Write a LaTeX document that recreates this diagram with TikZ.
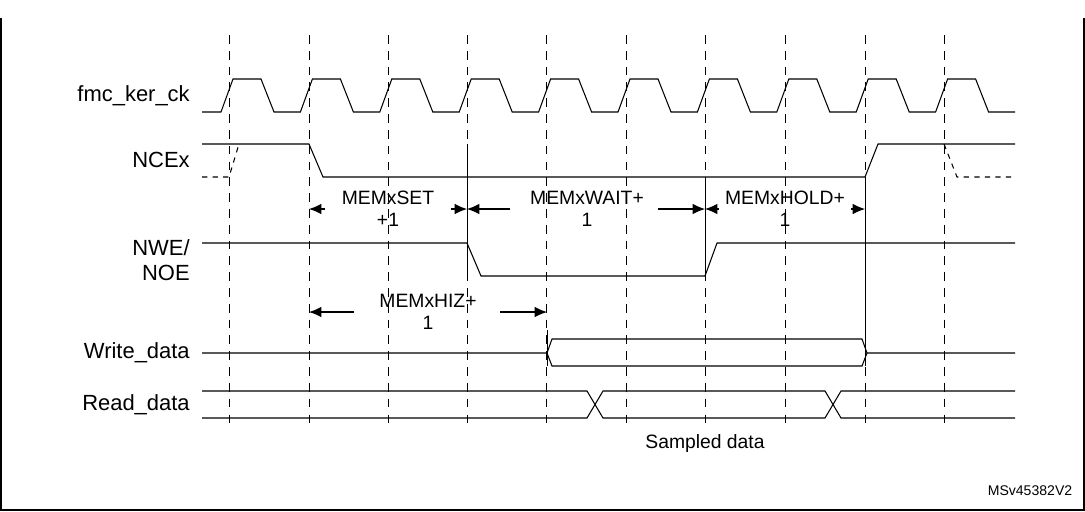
\documentclass[tikz,border=0pt]{standalone}
\usepackage{fontspec}
\setmainfont{Liberation Sans}
\usetikzlibrary{positioning}
\usetikzlibrary{calc}
\usetikzlibrary{arrows.meta}

\begin{document}
\begin{tikzpicture}[x=0.02cm,y=-0.02cm,line width=0.6pt,
  every node/.style={font=\fontsize{11}{12.5}\selectfont,inner sep=1pt},
  lbl/.style={anchor=east,align=right,font=\fontsize{12.5}{14}\selectfont},
  grid/.style={dashed,dash pattern=on 5pt off 4pt,line width=0.5pt},
  dim/.style={-{Latex[length=7pt,width=6pt]}}]
\useasboundingbox (0,0) rectangle (1085,511);
\draw[line width=0.8pt] (1,18) -- (1,510) -- (1084,510) -- (1084,18);
% dashed cycle lines
\foreach \x in {229,309,388,467,546,626,705,785,865,944}
  \draw[grid] (\x,35) -- (\x,428);
% signal names
\node[lbl] (clk) at (192,96) {fmc\_ker\_ck};
\node[lbl] (nce) at (192,160) {NCEx};
\node[lbl] (nwe) at (192,260) {NWE/\\NOE};
\node[lbl] (wd) at (192,353) {Write\_data};
\node[lbl] (rd) at (192,405) {Read\_data};
% clock
\draw (202,112) -- (221,112)
  \foreach \i in {0,...,9} { -- ({221+79.4*\i},112) -- ({233+79.4*\i},79) -- ({261+79.4*\i},79) -- ({274+79.4*\i},112) }
  -- (1015,112);
% NCEx
\draw (202,144) -- (309,144) -- (323,177) -- (865,177) -- (878,144) -- (1015,144);
\draw[dashed] (202,177) -- (229,177) -- (239,144);
\draw[dashed] (944,144) -- (957,177) -- (1015,177);
% NWE/NOE
\draw (202,243) -- (467,243) -- (481,276) -- (705,276) -- (717,243) -- (1015,243);
% Write_data
\draw (202,353) -- (547,353) -- (552,339) -- (862,339) -- (867,353) -- (1015,353);
\draw (547,353) -- (552,366) -- (862,366) -- (867,353);
% Read_data
\draw (202,391) -- (587,391) -- (603,418) -- (825,418) -- (841,391) -- (1015,391);
\draw (202,418) -- (587,418) -- (603,391) -- (825,391) -- (841,418) -- (1015,418);
% solid markers
\draw[line width=0.5pt] (467,144) -- (467,276);
\draw[line width=0.5pt] (705,177) -- (705,280);
\draw[line width=0.5pt] (865,177) -- (865,366);
\draw[line width=0.5pt] (547,330) -- (547,366);
% timing intervals
\coordinate (s0) at (309,209); \coordinate (s1) at (467,209);
\coordinate (w1) at (705,209); \coordinate (h1) at (865,209);
\coordinate (z0) at (309,312); \coordinate (z1) at (547,312);
\node[align=center] (set) at (388,209) {MEMxSET\\+1};
\node[align=center] (wait) at (587,209) {MEMxWAIT+\\1};
\node[align=center] (hold) at (785,209) {MEMxHOLD+\\1};
\node[align=center] (hiz) at (428,312) {MEMxHIZ+\\1};
\draw[dim] ($(s0)+(16,0)$) -- (s0);
\draw[dim] ($(s1)-(16,0)$) -- (s1);
\draw[dim] ($(s1)+(43,0)$) -- (s1);
\draw[dim] ($(w1)-(47,0)$) -- (w1);
\draw[dim] ($(w1)+(14,0)$) -- (w1);
\draw[dim] ($(h1)-(14,0)$) -- (h1);
\draw[dim] ($(z0)+(45,0)$) -- (z0);
\draw[dim] ($(z1)-(47,0)$) -- (z1);
\node (smp) at (705,443) {Sampled data};
\node[font=\fontsize{8}{9}\selectfont] (ref) at (1030,491) {MSv45382V2};
\end{tikzpicture}
\end{document}
